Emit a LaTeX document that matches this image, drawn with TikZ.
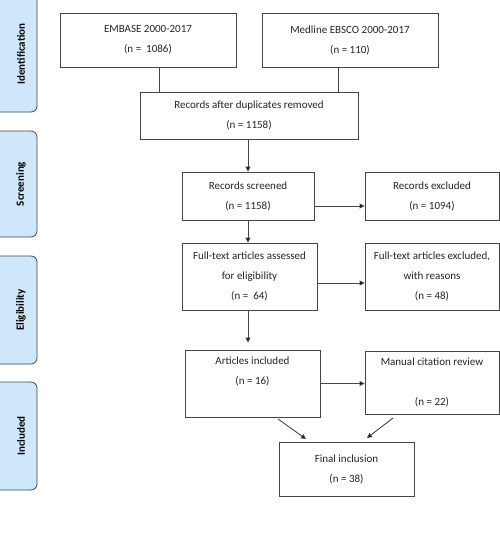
\documentclass[tikz,border=0pt]{standalone}
\usepackage{fontspec}
\setmainfont{Carlito}
\usetikzlibrary{arrows.meta}
\definecolor{stageB}{RGB}{207,231,251}
\definecolor{lineG}{RGB}{70,70,70}

\begin{document}
\begin{tikzpicture}[
  x=1pt, y=-1pt,
  box/.style={rectangle, draw=lineG, line width=0.9pt, fill=white, align=center, inner sep=0pt,
    text=black!85, font=\fontsize{11}{20}\selectfont},
  stage/.style={rectangle, rounded corners=6pt, draw=lineG, line width=0.8pt, fill=stageB},
  stagetext/.style={rotate=90, font=\fontsize{11}{12}\selectfont\bfseries},
  link/.style={draw=lineG, line width=0.9pt},
  arr/.style={link, -{Triangle[length=5pt, width=5pt, fill=black]}}]

  \useasboundingbox (0,0) rectangle (500,546);

  % stage bars on the left
  \draw[stage] (-8,-8) rectangle (37,112);
  \node[stagetext] (sid) at (21,54) {Identification};
  \draw[stage] (-8,131) rectangle (37,237);
  \node[stagetext] (ssc) at (21,184) {Screening};
  \draw[stage] (-8,256) rectangle (37,364);
  \node[stagetext] (sel) at (21,310) {Eligibility};
  \draw[stage] (-8,382) rectangle (37,490);
  \node[stagetext] (sin) at (21,436) {Included};

  % sources
  \node[box, minimum width=176pt, minimum height=54pt] (embase) at (148,40) {EMBASE 2000-2017\\(n =~ 1086)};
  \node[box, minimum width=176pt, minimum height=54pt] (medline) at (350,40) {Medline EBSCO 2000-2017\\(n = 110)};
  \node[box, minimum width=218pt, minimum height=47pt] (dup) at (249,115.5) {Records after duplicates removed\\(n = 1158)};
  \draw[link] ([xshift=11pt]embase.south) -- ([xshift=11pt]embase.south |- dup.north);
  \draw[link] ([xshift=-12pt]medline.south) -- ([xshift=-12pt]medline.south |- dup.north);

  % screening
  \node[box, minimum width=132pt, minimum height=48pt] (screened) at (248,196) {Records screened\\(n = 1158)};
  \node[box, minimum width=134pt, minimum height=48pt] (excl) at (432,196) {Records excluded\\(n = 1094)};
  \draw[arr] (screened.north |- dup.south) -- (screened.north);
  \draw[arr] ([yshift=-10pt]screened.east) -- ([yshift=-10pt]screened.east -| excl.west);

  % eligibility
  \node[box, minimum width=135pt, minimum height=67pt] (fulltext) at (249.5,276.5) {Full-text articles assessed\\for eligibility\\(n =~ 64)};
  \node[box, minimum width=134pt, minimum height=67pt] (ftexcl) at (432,276.5) {Full-text articles excluded,\\with reasons\\(n = 48)};
  \draw[arr] (screened.south) -- (screened.south |- fulltext.north);
  \draw[arr] ([yshift=-6.5pt]fulltext.east) -- ([yshift=-6.5pt]fulltext.east -| ftexcl.west);

  % included
  \node[box, minimum width=135pt, minimum height=67pt] (articles) at (252.5,383.5) {Articles included\\(n = 16)\\\strut};
  \node[box, minimum width=134pt, minimum height=63pt] (manual) at (432,382.5) {Manual citation review\\[20pt](n = 22)};
  \draw[arr] (screened.south |- fulltext.south) -- ([yshift=7pt]screened.south |- articles.north);
  \draw[arr] (articles.east) -- (articles.east -| manual.west);

  \node[box, minimum width=135pt, minimum height=54pt] (final) at (346.5,469) {Final inclusion\\(n = 38)};
  \coordinate (fromart) at (278,419);
  \coordinate (toleft) at (306,439);
  \coordinate (fromman) at (393,418);
  \coordinate (toright) at (367,438);
  \draw[arr] (fromart) -- (toleft);
  \draw[arr] (fromman) -- (toright);
\end{tikzpicture}
\end{document}
